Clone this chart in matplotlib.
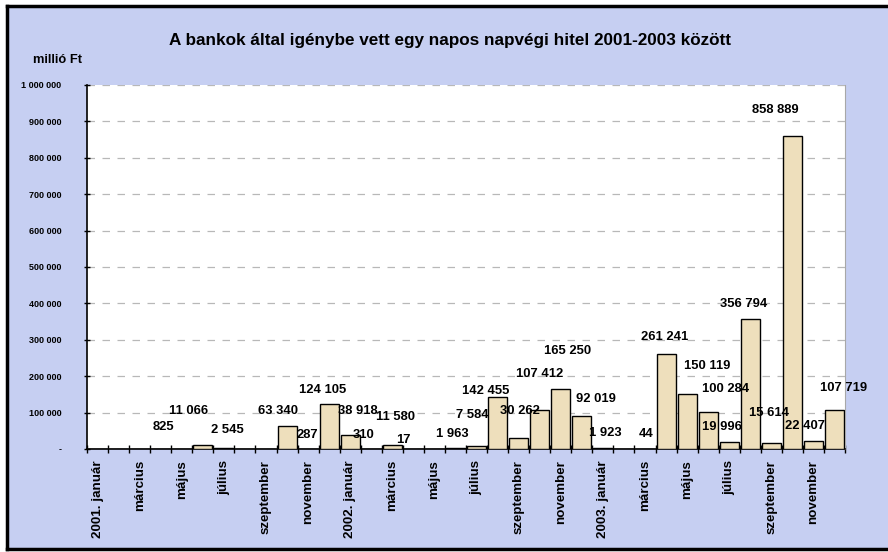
import matplotlib
matplotlib.use("Agg")
import matplotlib.pyplot as plt
from matplotlib.ticker import FuncFormatter, MultipleLocator

plt.rcParams['font.family'] = ['Liberation Sans', 'DejaVu Sans']
plt.rcParams['font.weight'] = 'bold'

# ---- data ----
months = ["január", "február", "március", "április", "május", "június",
          "július", "augusztus", "szeptember", "október", "november", "december"]
years = [2001, 2002, 2003]
values_2001 = [0, 0, 0, 0, 825, 11066, 2545, 0, 0, 63340, 287, 124105]
values_2002 = [38918, 310, 11580, 17, 0, 1963, 7584, 142455, 30262, 107412, 165250, 92019]
values_2003 = [1923, 0, 44, 261241, 150119, 100284, 19996, 356794, 15614, 858889, 22407, 107719]
title = "A bankok által igénybe vett egy napos napvégi hitel 2001-2003 között"
unit_label = "millió Ft"

values = values_2001 + values_2002 + values_2003
categories = []
for y in years:
    for i, m in enumerate(months):
        categories.append(f"{y}. {m}" if i == 0 else m)

# label offsets (pixels, from bar-top centre) to mimic the manual label placement
label_offsets = {
    4: (-18, 22), 5: (-14, 34), 6: (4, 18), 9: (-9, 15), 10: (-1, 14), 11: (-7, 14),
    12: (8, 24), 13: (-8, 14), 14: (3, 28), 15: (-10, 9), 17: (-3, 14), 18: (-4, 31),
    19: (-12, 6), 20: (1, 27), 21: (0, 36), 22: (7, 38), 23: (14, 17), 24: (2, 15),
    26: (1, 15), 27: (-1, 17), 28: (20, 28), 29: (17, 23), 30: (-7, 15), 31: (-7, 15),
    32: (-2, 30), 33: (-17, 26), 34: (-8, 15), 35: (9, 22),
}

W, H = 888, 552
fig = plt.figure(figsize=(W / 100, H / 100), dpi=100)
fig.patch.set_facecolor("white")

# background frame
bg = fig.add_axes([7 / W, 1 - 549 / H, 1 - 7 / W + 0.01, (549 - 6) / H])
bg.set_facecolor("#c6cff2")
bg.set_xticks([]); bg.set_yticks([])
for s in ["left", "top", "bottom"]:
    bg.spines[s].set_linewidth(2.5)
    bg.spines[s].set_color("black")
bg.spines["right"].set_visible(False)
bg.set_zorder(0)

x0, x1, ytop, ybot = 87, 845, 85, 449
ax = fig.add_axes([x0 / W, 1 - ybot / H, (x1 - x0) / W, (ybot - ytop) / H])
ax.set_zorder(1)
ax.set_facecolor("white")

n = len(values)
xs = list(range(n))
ax.bar(xs, values, width=0.9, color="#eedfbc", edgecolor="black", linewidth=1.0, zorder=3)

ax.set_xlim(-0.5, n - 0.5)
ax.set_ylim(0, 1_000_000)

# gridlines
ax.yaxis.set_major_locator(MultipleLocator(100_000))
ax.grid(axis="y", color="#b8b8b8", linestyle=(0, (6, 6)), linewidth=0.9, zorder=1)
ax.set_axisbelow(True)

def yfmt(v, pos):
    if v == 0:
        return "-"
    return f"{int(v):,}".replace(",", " ")
ax.yaxis.set_major_formatter(FuncFormatter(yfmt))
ax.tick_params(axis="y", direction="inout", length=5, width=1, labelsize=6.5, pad=16)
for lab in ax.get_yticklabels():
    lab.set_fontweight("bold")

# x ticks: boundaries (major), labels on centres (minor)
ax.set_xticks([i - 0.5 for i in range(n + 1)])
ax.set_xticklabels([])
ax.tick_params(axis="x", which="major", direction="inout", length=6, width=1)
ax.set_xticks(xs[::2], [categories[i] for i in xs[::2]], minor=True)
ax.tick_params(axis="x", which="minor", length=0, pad=8, labelsize=9.6)
for lab in ax.get_xticklabels(minor=True):
    lab.set_rotation(90)
    lab.set_fontweight("bold")
    lab.set_va("top")
    lab.set_ha("center")

ax.spines["top"].set_visible(False)
ax.spines["right"].set_color("#a8a8a8")
ax.spines["left"].set_linewidth(1.2)
ax.spines["bottom"].set_linewidth(1.2)

# data labels
for i, v in enumerate(values):
    if v == 0:
        continue
    dx, dy = label_offsets.get(i, (0, 12))
    ax.annotate(f"{v:,}".replace(",", " "), xy=(i, v), xytext=(dx, dy),
                textcoords="offset pixels", ha="center", va="center",
                fontsize=9.4, fontweight="bold", color="black", zorder=5,
                annotation_clip=False)

fig.text(450 / W, 1 - 40 / H, title, ha="center", va="center", fontsize=12.3, fontweight="bold")
fig.text(33 / W, 1 - 60 / H, unit_label, ha="left", va="center", fontsize=9.3, fontweight="bold")

fig.savefig("out.png", dpi=100)
